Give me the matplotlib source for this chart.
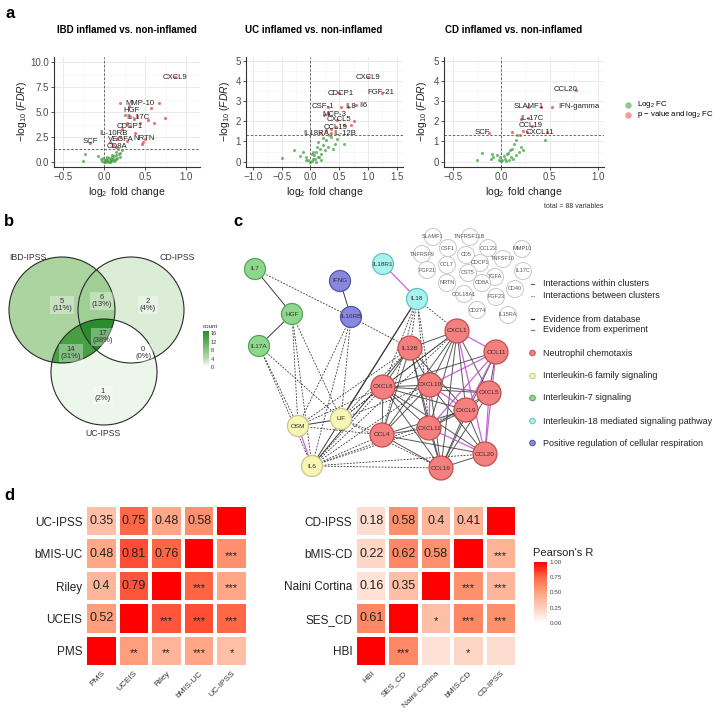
import numpy as np
import matplotlib
matplotlib.use('Agg')
import matplotlib.pyplot as plt
from matplotlib.colors import LinearSegmentedColormap, Normalize
from matplotlib.patches import Circle
from matplotlib.cm import ScalarMappable

plt.rcParams['font.family'] = ['Liberation Sans', 'DejaVu Sans']
plt.rcParams['mathtext.fontset'] = 'custom'
plt.rcParams['mathtext.rm'] = 'Liberation Sans'
plt.rcParams['mathtext.it'] = 'Liberation Sans:italic'

# ---------------- data: volcano plots ----------------
ibd_green_x = [-0.26, -0.23, -0.07, -0.04, -0.02, -0.01, 0.00, 0.01, 0.02, 0.02, 0.03, 0.04, 0.04, 0.05,
               0.06, 0.06, 0.07, 0.08, 0.08, 0.09, 0.10, 0.10, 0.11, 0.12, 0.12, 0.13, 0.14, 0.15, 0.15,
               0.16, 0.17, 0.18, 0.19, 0.20, 0.22]
ibd_green_y = [0.15, 0.80, 0.60, 0.30, 0.10, 0.40, 0.05, 0.20, 0.35, 0.02, 0.10, 0.25, 0.55, 0.15,
               0.40, 0.08, 0.05, 0.30, 0.12, 0.20, 0.50, 0.75, 0.35, 0.60, 0.15, 0.25, 0.70, 1.00, 0.30,
               0.45, 1.30, 0.80, 0.55, 0.95, 1.20]
ibd_red_x = [0.87, 0.19, 0.67, 0.57, 0.31, 0.74, 0.26, 0.32, 0.40, 0.36, 0.54, 0.61, 0.28, 0.44,
             0.32, 0.22, 0.38, 0.20, 0.48, 0.50, 0.46, -0.17, 0.11, 0.15, 0.07, 0.28, 0.16]
ibd_red_y = [8.5, 5.9, 5.9, 5.4, 5.6, 4.4, 4.75, 4.6, 4.6, 4.3, 4.2, 3.9, 3.9, 3.9,
             3.6, 3.3, 2.95, 2.5, 2.0, 2.3, 1.8, 1.97, 1.7, 1.5, 2.0, 2.1, 2.3]
ibd_labels = ['CXCL9', 'MMP-10', 'HGF', 'IL-17C', 'CDCP1', 'IL-10RB', 'SCF', 'VEGFA', 'NRTN', 'CD8A']
ibd_lab_x = [0.86, 0.44, 0.33, 0.41, 0.31, 0.11, -0.17, 0.21, 0.49, 0.16]
ibd_lab_y = [8.5, 5.9, 5.15, 4.5, 3.6, 2.9, 2.05, 2.3, 2.4, 1.55]

uc_green_x = [-0.50, -0.28, -0.13, -0.18, -0.07, -0.04, 0.02, 0.05, 0.07, 0.13, 0.10, 0.19, 0.16, 0.25,
              0.22, 0.30, 0.13, 0.27, 0.22, 0.33, 0.42, 0.59, 0.39, 0.19, 0.10, -0.01, -0.07, 0.12,
              0.05, 0.36, 0.47, 0.08, 0.03, 0.15]
uc_green_y = [0.18, 0.56, 0.48, 0.26, 0.23, 0.07, 0.02, 0.15, 0.31, 0.23, 0.48, 0.39, 0.64, 0.56,
              0.80, 0.72, 0.97, 1.05, 1.18, 1.30, 0.89, 0.89, 0.64, 0.07, 0.00, 0.00, 0.10, 0.72,
              0.48, 1.21, 1.13, 0.12, 0.40, 0.25]
uc_red_x = [1.00, 0.50, 1.25, 0.31, 0.53, 0.66, 0.79, 0.30, 0.23, 0.47, 0.76, 0.70, 0.45, 0.36,
            0.16, 0.36, 0.27, 0.59]
uc_red_y = [4.2, 3.43, 3.43, 2.72, 2.72, 2.72, 2.82, 2.36, 2.3, 2.07, 2.0, 1.8, 1.7, 1.62,
            1.4, 1.4, 1.55, 1.8]
uc_labels = ['CXCL9', 'CDCP1', 'FGF-21', 'CSF-1', 'IL8', 'Il6', 'MCP-3', 'CXCL5', 'CCL19', 'IL18RA', 'IL-12B']
uc_lab_x = [1.00, 0.52, 1.22, 0.22, 0.70, 0.92, 0.42, 0.50, 0.44, 0.10, 0.59]
uc_lab_y = [4.2, 3.4, 3.43, 2.72, 2.72, 2.77, 2.36, 2.07, 1.7, 1.38, 1.38]

cd_green_x = [0.45, 0.16, 0.15, 0.13, 0.11, 0.09, 0.06, 0.03, -0.01, -0.04, -0.08, -0.09, -0.11, 0.04,
              0.08, 0.01, -0.02, 0.20, 0.18, 0.22, 0.10, 0.15, -0.25, -0.20, 0.12, 0.05, 0.00, 0.07]
cd_green_y = [1.05, 1.30, 1.05, 0.89, 0.64, 0.56, 0.36, 0.26, 0.23, 0.31, 0.23, 0.39, 0.15, 0.15,
              0.07, 0.07, 0.10, 0.72, 0.48, 0.56, 0.23, 0.31, 0.10, 0.43, 0.15, 0.05, 0.02, 0.45]
cd_red_x = [0.77, 0.52, 0.41, 0.28, 0.20, 0.28, 0.32, 0.22, 0.27, 0.47, 0.11, 0.19, -0.13]
cd_red_y = [3.54, 2.72, 2.72, 2.72, 2.10, 2.16, 1.79, 1.54, 1.46, 1.46, 1.46, 1.34, 1.44]
cd_labels = ['CCL20', 'IFN-gamma', 'SLAMF1', 'IL-17C', 'CCL19', 'CXCL11', 'SCF']
cd_lab_x = [0.66, 0.80, 0.28, 0.32, 0.30, 0.40, -0.19]
cd_lab_y = [3.56, 2.74, 2.74, 2.16, 1.79, 1.46, 1.44]

# ---------------- data: venn ----------------
venn_sets = ['IBD-IPSS', 'CD-IPSS', 'UC-IPSS']
# membership key (IBD, CD, UC) -> count
venn_keys = [(1, 0, 0), (1, 1, 0), (0, 1, 0), (1, 1, 1), (1, 0, 1), (0, 1, 1), (0, 0, 1)]
venn_counts = [5, 6, 2, 17, 14, 0, 1]

# ---------------- data: correlation heatmaps ----------------
uc_vars = ['PMS', 'UCEIS', 'Riley', 'bMIS-UC', 'UC-IPSS']
uc_r = [[1.00, 0.52, 0.40, 0.48, 0.35],
        [0.52, 1.00, 0.79, 0.81, 0.75],
        [0.40, 0.79, 1.00, 0.76, 0.48],
        [0.48, 0.81, 0.76, 1.00, 0.58],
        [0.35, 0.75, 0.48, 0.58, 1.00]]
uc_stars = [['', '**', '**', '***', '*'],
            ['', '', '***', '***', '***'],
            ['', '', '', '***', '***'],
            ['', '', '', '', '***'],
            ['', '', '', '', '']]
cd_vars = ['HBI', 'SES_CD', 'Naini Cortina', 'bMIS-CD', 'CD-IPSS']
cd_r = [[1.00, 0.61, 0.16, 0.22, 0.18],
        [0.61, 1.00, 0.35, 0.62, 0.58],
        [0.16, 0.35, 1.00, 0.58, 0.40],
        [0.22, 0.62, 0.58, 1.00, 0.41],
        [0.18, 0.58, 0.40, 0.41, 1.00]]
cd_stars = [['', '***', '', '*', ''],
            ['', '', '*', '***', '***'],
            ['', '', '', '***', '***'],
            ['', '', '', '', '***'],
            ['', '', '', '', '']]

# ---------------- network layout (STRING-like) ----------------
node_pos = {
    'IL7': (255, 269), 'HGF': (292, 314), 'IL17A': (259, 346),
    'IFNG': (340, 281), 'IL10RB': (351, 317),
    'IL18R1': (383, 264), 'IL18': (417, 299),
    'OSM': (298, 426), 'LIF': (341, 419), 'IL6': (312, 466),
    'CXCL1': (457, 331), 'IL12B': (410, 348), 'CCL11': (496, 352), 'CXCL8': (383, 387),
    'CXCL10': (430, 385), 'CXCL5': (489, 393), 'CXCL9': (466, 410), 'CXCL11': (429, 428),
    'CCL4': (382, 435), 'CCL20': (485, 454), 'CCL19': (441, 468),
}
node_cluster = {
    'IL7': 'green', 'HGF': 'green', 'IL17A': 'green', 'IFNG': 'blue', 'IL10RB': 'blue',
    'IL18R1': 'cyan', 'IL18': 'cyan', 'OSM': 'yellow', 'LIF': 'yellow', 'IL6': 'yellow',
}
red_nodes = ['CXCL1', 'IL12B', 'CCL11', 'CXCL8', 'CXCL10', 'CXCL5', 'CXCL9', 'CXCL11', 'CCL4', 'CCL20', 'CCL19']
gray_pos = {
    'SLAMF1': (433, 237), 'TNFRSF11B': (470, 237), 'CSF1': (448, 248), 'CCL23': (488, 248),
    'MMP10': (522, 249), 'TNFRSF9': (422, 254), 'CD5': (466, 255), 'TNFSF10': (503, 259),
    'CDCP1': (480, 263), 'CCL7': (447, 265), 'FGF21': (427, 270), 'CST5': (468, 273),
    'IL17C': (523, 271), 'TGFA': (495, 277), 'NRTN': (447, 283), 'CD8A': (482, 283),
    'CD40': (515, 289), 'COL18A1': (464, 294), 'FGF23': (496, 297), 'CD274': (477, 310),
    'IL15RA': (508, 315),
}
solid_edges = [('IL7', 'HGF'), ('HGF', 'IL17A'), ('IFNG', 'IL10RB'), ('OSM', 'LIF'),
               ('IL6', 'IL18'), ('LIF', 'IL18'), ('IL6', 'IL12B')]
exp_edges = [('IL18R1', 'IL18'), ('OSM', 'IL6'), ('CXCL1', 'CCL11'), ('CXCL1', 'CCL20'),
             ('CCL11', 'CXCL10'), ('CCL11', 'CXCL9'), ('CCL11', 'CXCL11'), ('CCL11', 'CCL20'),
             ('CXCL10', 'CXCL11'), ('CXCL11', 'CCL20'), ('CXCL10', 'CXCL9'), ('CXCL5', 'CCL20')]
red_missing = [('IL12B', 'CCL11'), ('IL12B', 'CXCL5'), ('IL12B', 'CCL20'), ('CCL4', 'CCL11'), ('CCL4', 'CXCL5')]
dashed_edges = [('IL7', 'IL10RB'), ('IL10RB', 'IL12B'), ('HGF', 'OSM'), ('HGF', 'LIF'), ('HGF', 'IL6'),
                ('IL17A', 'OSM'), ('IL17A', 'LIF'), ('IL17A', 'IL6'), ('IL10RB', 'OSM'), ('IL10RB', 'LIF'),
                ('IL10RB', 'IL6'), ('IL18', 'CXCL1'), ('IL18', 'IL12B'), ('IL18', 'CXCL8'), ('IL18', 'CXCL10'),
                ('IL18', 'CXCL11'), ('IL18', 'CCL4'), ('IL6', 'CXCL8'), ('IL6', 'CCL4'), ('IL6', 'CCL19'),
                ('IL6', 'CXCL10'), ('IL6', 'CXCL1'), ('IL6', 'CXCL11'), ('IL6', 'CCL20'), ('IL6', 'CXCL9'),
                ('LIF', 'CXCL8'), ('LIF', 'CCL4'), ('LIF', 'CXCL1'), ('LIF', 'CCL19'), ('LIF', 'IL12B'),
                ('LIF', 'CXCL10'), ('OSM', 'CXCL8'), ('OSM', 'CCL4'), ('OSM', 'IL12B')]

cluster_col = {'red': ('#f47f7f', '#c24f4f'), 'yellow': ('#f8f6b4', '#c8c68a'),
               'green': ('#8ed88e', '#56a456'), 'cyan': ('#a6f3f0', '#68bfbb'),
               'blue': ('#8788e0', '#5254a6')}
legend_c = ['Neutrophil chemotaxis', 'Interleukin-6 family signaling', 'Interleukin-7 signaling',
            'Interleukin-18 mediated signaling pathway', 'Positive regulation of cellular respiration']
legend_c_cl = ['red', 'yellow', 'green', 'cyan', 'blue']

# ---------------- colour scales ----------------
r_cmap = LinearSegmentedColormap.from_list('wr', [(0, '#FFFFFF'), (0.25, '#FFCFBE'), (0.5, '#FFA381'),
                                                  (0.75, '#FF6847'), (1, '#FF0000')])
g_cmap = LinearSegmentedColormap.from_list('wg', [(0, '#FFFFFF'), (0.25, '#b3d9a9'), (0.5, '#86c27c'),
                                                  (0.75, '#55a84e'), (1, '#2b8c2b')])
g_cmap.set_bad((1, 1, 1, 0))

fig = plt.figure(figsize=(7.2, 7.2), dpi=100)


def px_ax(l, t, r, b):
    return fig.add_axes([l / 720, 1 - b / 720, (r - l) / 720, (b - t) / 720])


ov = px_ax(0, 0, 720, 720)
ov.set_xlim(0, 720)
ov.set_ylim(720, 0)
ov.axis('off')

GREEN = '#47a447'
RED = '#e65c5c'


def volcano(ax, gx, gy, rx, ry, labs, lx, ly, xlim, ylim, xt, yt, ytl):
    ax.scatter(gx, gy, s=5, color=GREEN, alpha=0.75, lw=0, zorder=3)
    ax.scatter(rx, ry, s=5, color=RED, alpha=0.85, lw=0, zorder=3)
    for t, x, y in zip(labs, lx, ly):
        ax.text(x, y, t, fontsize=5.6, color='#222222', ha='center', va='center', zorder=4)
    ax.axhline(-np.log10(0.05), ls=(0, (3, 2)), color='#555555', lw=0.6, zorder=2)
    ax.axvline(0, ls=(0, (3, 2)), color='#555555', lw=0.6, zorder=2)
    ax.set_xlim(*xlim)
    ax.set_ylim(*ylim)
    ax.set_xticks(xt)
    ax.set_yticks(yt)
    ax.set_yticklabels(ytl)
    ax.set_xticks([(a + b) / 2 for a, b in zip(xt[:-1], xt[1:])], minor=True)
    ax.set_yticks([(a + b) / 2 for a, b in zip(yt[:-1], yt[1:])], minor=True)
    ax.grid(True, which='major', color='#e6e6e6', lw=0.6)
    ax.grid(True, which='minor', color='#f2f2f2', lw=0.4)
    ax.set_axisbelow(True)
    for s in ['top', 'right']:
        ax.spines[s].set_visible(False)
    for s in ['left', 'bottom']:
        ax.spines[s].set_color('#333333')
        ax.spines[s].set_linewidth(0.8)
    ax.tick_params(which='major', length=2.5, width=0.6, color='#333333', labelsize=7,
                   labelcolor='#4d4d4d', pad=1)
    ax.tick_params(which='minor', length=0)


a1 = px_ax(54, 57, 200, 167)
volcano(a1, ibd_green_x, ibd_green_y, ibd_red_x, ibd_red_y, ibd_labels, ibd_lab_x, ibd_lab_y,
        (-0.61, 1.17), (-0.45, 10.5), [-0.5, 0.0, 0.5, 1.0], [0, 2.5, 5, 7.5, 10],
        ['0.0', '2.5', '5.0', '7.5', '10.0'])
a2 = px_ax(246, 57, 403, 167)
volcano(a2, uc_green_x, uc_green_y, uc_red_x, uc_red_y, uc_labels, uc_lab_x, uc_lab_y,
        (-1.12, 1.61), (-0.27, 5.2), [-1.0, -0.5, 0.0, 0.5, 1.0, 1.5], [0, 1, 2, 3, 4, 5],
        ['0', '1', '2', '3', '4', '5'])
a3 = px_ax(444, 57, 604, 167)
volcano(a3, cd_green_x, cd_green_y, cd_red_x, cd_red_y, cd_labels, cd_lab_x, cd_lab_y,
        (-0.59, 1.06), (-0.27, 5.2), [-0.5, 0.0, 0.5, 1.0], [0, 1, 2, 3, 4, 5],
        ['0', '1', '2', '3', '4', '5'])

for ax in [a1, a2, a3]:
    ax.set_xlabel(r'$\log_2$ fold change', fontsize=7.5, color='#222222', labelpad=2)

titles = ['IBD inflamed vs. non-inflamed', 'UC inflamed vs. non-inflamed', 'CD inflamed vs. non-inflamed']
for t, cx in zip(titles, [127, 314, 514]):
    ov.text(cx, 30, t, ha='center', va='center', fontsize=7, fontweight='bold')
for cx in [22, 225, 422]:
    ov.text(cx, 112, r'$-\log_{10}\,(\mathit{FDR})$', rotation=90, ha='center', va='center',
            fontsize=7.5, color='#222222')

ov.scatter([628], [105], s=22, color=GREEN, alpha=0.6, lw=0)
ov.scatter([628], [115], s=22, color=RED, alpha=0.6, lw=0)
ov.text(637, 105, r'Log$_2$ FC', fontsize=5.6, va='center')
ov.text(637, 115, r'p $-$ value and log$_2$ FC', fontsize=5.6, va='center')
ov.text(604, 207, 'total = 88 variables', fontsize=5, ha='right', va='center', color='#333333')

# ---------------- panel b: venn ----------------
centers = [(62, 310), (131, 310), (104, 372)]
rad = 53
gx, gy = np.meshgrid(np.linspace(0, 230, 921), np.linspace(240, 440, 801))
inside = [((gx - cx) ** 2 + (gy - cy) ** 2) <= rad ** 2 for cx, cy in centers]
region = np.full(gx.shape, np.nan)
for key, c in zip(venn_keys, venn_counts):
    m = np.ones(gx.shape, bool)
    for k, ins in zip(key, inside):
        m &= ins if k else ~ins
    region[m] = c
vnorm = Normalize(0, max(venn_counts))
ov.imshow(region, extent=(0, 230, 440, 240), origin='upper', cmap=g_cmap, norm=vnorm,
          interpolation='nearest', aspect='auto', zorder=1)
for cx, cy in centers:
    ov.add_patch(Circle((cx, cy), rad, fill=False, edgecolor='#2b2b2b', lw=0.8, zorder=2))
ov.set_xlim(0, 720)
ov.set_ylim(720, 0)

total = sum(venn_counts)
lab_pos = [(62, 305), (102, 301), (148, 305), (103, 337), (71, 353), (143, 353), (103, 395)]
for (x, y), c in zip(lab_pos, venn_counts):
    ov.text(x, y, f'{c}\n({round(100 * c / total)}%)', ha='center', va='center', fontsize=5.5,
            color='#333333', linespacing=1.0, zorder=3,
            bbox=dict(boxstyle='square,pad=0.25', facecolor='white', alpha=0.35, edgecolor='none'))
for name, (x, y) in zip(venn_sets, [(28, 258), (177, 258), (103, 433)]):
    ov.text(x, y, name, ha='center', va='center', fontsize=6.3, color='#333333')

vcax = px_ax(203, 331, 209, 367)
vcb = fig.colorbar(ScalarMappable(norm=vnorm, cmap=g_cmap), cax=vcax)
vcb.outline.set_visible(False)
vcb.set_ticks([0, 4, 8, 12, 16])
vcax.tick_params(length=0, labelsize=4, pad=1.5, labelcolor='#333333')
ov.text(203, 327, 'count', fontsize=4.5, va='center', color='#333333')

# ---------------- panel c: network ----------------
for name in red_nodes:
    node_cluster[name] = 'red'
pos = node_pos


def seg(a, b, **kw):
    (x1, y1), (x2, y2) = pos[a], pos[b]
    ov.plot([x1, x2], [y1, y2], **kw)


for a, b in dashed_edges:
    seg(a, b, color='#3a3a3a', lw=0.6, ls=(0, (2.2, 1.6)), zorder=4)
exp_set = set(frozenset(e) for e in exp_edges)
miss_set = set(frozenset(e) for e in red_missing)
for i, a in enumerate(red_nodes):
    for b in red_nodes[i + 1:]:
        key = frozenset((a, b))
        if key in miss_set or key in exp_set:
            continue
        seg(a, b, color='#3a3a3a', lw=0.7, alpha=0.85, zorder=4)
for a, b in solid_edges:
    seg(a, b, color='#3a3a3a', lw=0.7, zorder=4)
for a, b in exp_edges:
    seg(a, b, color='#c04bd0', lw=0.9, alpha=0.85, zorder=4)

for name, (x, y) in node_pos.items():
    fc, ec = cluster_col[node_cluster[name]]
    r = 12 if node_cluster[name] == 'red' else 10.5
    ov.add_patch(Circle((x, y), r, facecolor=fc, edgecolor=ec, lw=0.9, zorder=5))
    ov.text(x, y, name, ha='center', va='center', fontsize=4.6, color='#3a2a2a', zorder=6)
for name, (x, y) in gray_pos.items():
    ov.add_patch(Circle((x, y), 8.5, facecolor='white', edgecolor='#c8c8c8', lw=0.7, zorder=5))
    ov.text(x, y, name, ha='center', va='center', fontsize=4.0, color='#555555', zorder=6)

lx = 531
ov.plot([lx, lx + 3], [284, 284], color='#555555', lw=0.8)
ov.plot([lx, lx + 3], [296, 296], color='#555555', lw=0.8, ls=(0, (1, 1)))
ov.plot([lx, lx + 3], [319, 319], color='#222222', lw=0.9)
ov.plot([lx, lx + 3], [330, 330], color='#c04bd0', lw=0.9)
for txt, y in zip(['Interactions within clusters', 'Interactions between clusters',
                   'Evidence from database', 'Evidence from experiment'], [284, 296, 319, 330]):
    ov.text(543, y, txt, fontsize=6.5, va='center', color='#222222')
for txt, cl, y in zip(legend_c, legend_c_cl, [353, 376, 398, 421, 443]):
    fc, ec = cluster_col[cl]
    ov.add_patch(Circle((lx + 1.5, y), 2.8, facecolor=fc, edgecolor=ec, lw=0.7))
    ov.text(543, y, txt, fontsize=6.5, va='center', color='#222222')

# ---------------- panel d: heatmaps ----------------
rnorm = Normalize(0, 1)


def heat(ax, names, R, stars):
    n = len(names)
    R = np.array(R)
    ax.pcolormesh(np.arange(n + 1), np.arange(n + 1), R, cmap=r_cmap, norm=rnorm,
                  edgecolors='white', linewidth=1.5)
    for i in range(n):
        for j in range(n):
            if j < i:
                ax.text(j + 0.5, i + 0.5, f'{R[i, j]:g}', ha='center', va='center', fontsize=9,
                        color='#222222')
            elif j > i and stars[i][j]:
                ax.text(j + 0.5, i + 0.43, stars[i][j], ha='center', va='center', fontsize=8,
                        color='#222222')
    ax.set_xlim(0, n)
    ax.set_ylim(0, n)
    ax.set_xticks(np.arange(n) + 0.5)
    ax.set_yticks(np.arange(n) + 0.5)
    ax.set_xticklabels(names, rotation=45, ha='right', rotation_mode='anchor', fontsize=6,
                       color='#333333')
    ax.set_yticklabels(names, fontsize=8.5, color='#222222')
    ax.tick_params(length=0, pad=2)
    for s in ax.spines.values():
        s.set_visible(False)


h1 = px_ax(85, 505, 248, 667)
heat(h1, uc_vars, uc_r, uc_stars)
h2 = px_ax(355, 505, 517, 667)
heat(h2, cd_vars, cd_r, cd_stars)

rcax = px_ax(534, 562, 547, 623)
rcb = fig.colorbar(ScalarMappable(norm=rnorm, cmap=r_cmap), cax=rcax)
rcb.outline.set_visible(False)
rcb.set_ticks([0, 0.25, 0.5, 0.75, 1.0])
rcb.set_ticklabels(['0.00', '0.25', '0.50', '0.75', '1.00'])
rcax.tick_params(length=0, labelsize=4.5, pad=2, labelcolor='#444444')
ov.text(533, 553, "Pearson's R", fontsize=8, va='center', color='#222222')

# panel letters
for letter, x, y in [('a', 6, 14), ('b', 4, 221), ('c', 233, 222), ('d', 4, 495)]:
    ov.text(x, y, letter, fontsize=12, fontweight='bold', va='center', ha='left')

fig.savefig('out.png', dpi=100, facecolor='white')
